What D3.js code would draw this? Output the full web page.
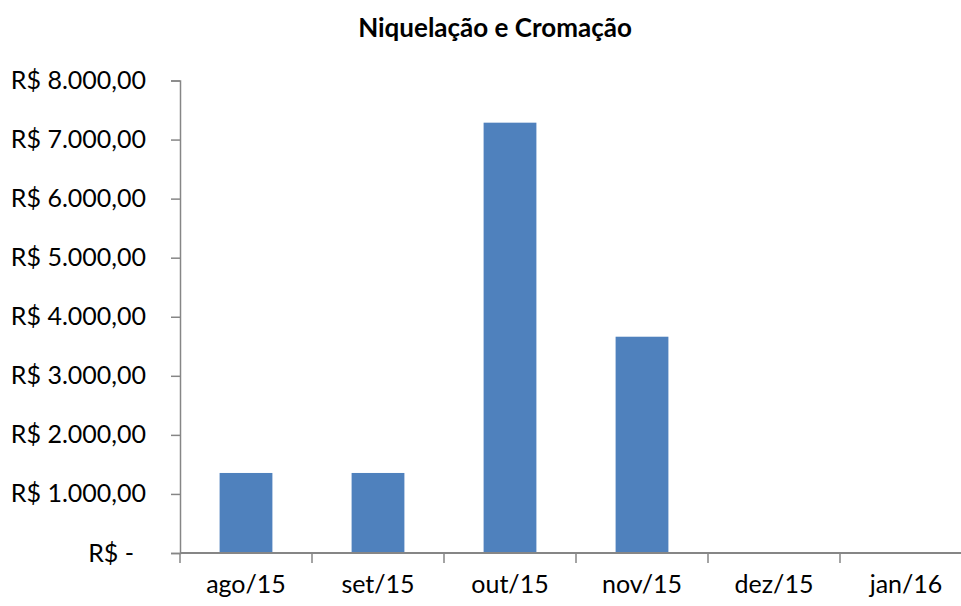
<!DOCTYPE html>
<html><head><meta charset="utf-8">
<script src="https://cdn.jsdelivr.net/npm/d3@7"></script>
<style>body{margin:0;background:#fff}svg{display:block}text{font-family:Lato,"Open Sans",sans-serif;fill:#000}</style>
</head><body><svg id="c" width="961" height="606"></svg>
<script>
const title = "Niquelação e Cromação";
const categories = ["ago/15","set/15","out/15","nov/15","dez/15","jan/16"];
const values = [1355, 1355, 7286, 3662, 0, 0];
const yTicks = [0,1000,2000,3000,4000,5000,6000,7000,8000];

const svg = d3.select("#c");
const x = d3.scaleBand().domain(categories).range([180, 972]).paddingInner(0.6).paddingOuter(0.3);
const y = d3.scaleLinear().domain([0, 8000]).range([553, 80.5]);
const fmt = v => v === 0 ? "R$ -" : "R$ " + d3.format(",.2f")(v).replace(/,/g,"#").replace(".",",").replace(/#/g,".");

svg.append("text").attr("x", 495).attr("y", 37).attr("text-anchor","middle")
  .style("font-weight","bold").style("font-size","26px").text(title);

svg.append("g").selectAll("rect").data(values).join("rect")
  .attr("x",(d,i)=>x(categories[i])).attr("width",x.bandwidth())
  .attr("y",d=>y(d)).attr("height",d=>y(0)-y(d)).attr("fill","#4F81BD");

const gy = svg.append("g").attr("transform","translate(180,0)")
  .call(d3.axisLeft(y).tickValues(yTicks).tickSize(9).tickPadding(25).tickFormat(fmt));
gy.select(".domain").attr("stroke","#868686").attr("stroke-width",1.5);
gy.selectAll(".tick line").attr("stroke","#868686").attr("stroke-width",1.5);
gy.selectAll(".tick text").style("font-size","25px").attr("fill","#000")
  .attr("dx", d => d === 0 ? -12 : 0);

const gx = svg.append("g").attr("transform","translate(0,553)");
gx.append("line").attr("x1",180).attr("x2",972).attr("y1",0).attr("y2",0).attr("stroke","#868686").attr("stroke-width",2);
const bounds = categories.map(c => x(c) - x.step()*0.3).concat([x(categories[categories.length-1]) - x.step()*0.3 + x.step()]);
gx.selectAll("line.t").data(bounds).join("line").attr("class","t")
  .attr("x1",d=>d).attr("x2",d=>d).attr("y1",0).attr("y2",10).attr("stroke","#868686").attr("stroke-width",1.5);
gx.selectAll("text").data(categories).join("text")
  .attr("x",d=>x(d)+x.bandwidth()/2).attr("y",40).attr("text-anchor","middle")
  .style("font-size","25px").text(d=>d);
</script></body></html>
